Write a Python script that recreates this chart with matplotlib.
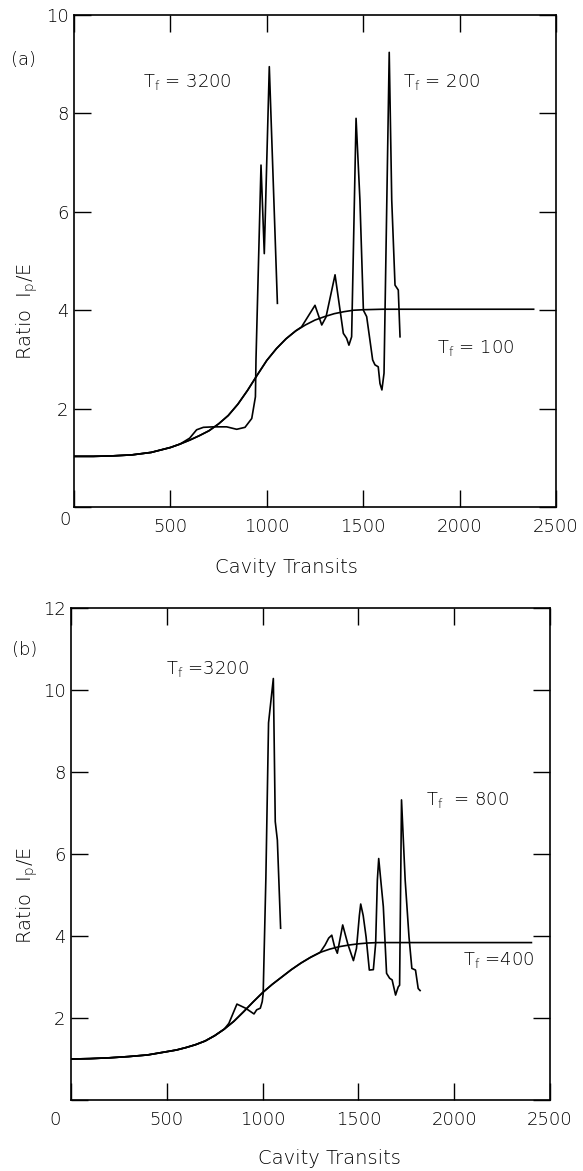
import matplotlib
matplotlib.use("Agg")
import matplotlib.pyplot as plt
import matplotlib.transforms as mtransforms

plt.rcParams['font.family'] = ['DejaVu Sans']
plt.rcParams['mathtext.fontset'] = 'dejavusans'

# ---------------- Panel (a) data ----------------
a_x_tf100 = [0, 100, 200, 300, 400, 500, 550, 600, 650, 700, 750, 800, 850, 900,
             950, 1000, 1050, 1100, 1150, 1200, 1250, 1300, 1350, 1400, 1450,
             1500, 1600, 1800, 2000, 2200, 2384]
a_y_tf100 = [1.03, 1.03, 1.04, 1.06, 1.11, 1.21, 1.28, 1.36, 1.45, 1.55, 1.69,
             1.86, 2.09, 2.37, 2.68, 2.98, 3.22, 3.42, 3.58, 3.70, 3.80, 3.87,
             3.93, 3.97, 4.00, 4.01, 4.02, 4.02, 4.02, 4.02, 4.02]

a_x_tf3200 = [0, 100, 200, 300, 400, 500, 550, 600, 636, 671, 723, 792, 844,
              887, 922, 941, 944, 970, 987, 1013, 1055]
a_y_tf3200 = [1.03, 1.03, 1.04, 1.06, 1.11, 1.21, 1.28, 1.40, 1.57, 1.62, 1.63,
              1.63, 1.58, 1.62, 1.80, 2.24, 3.00, 6.95, 5.15, 8.95, 4.14]

a_x_tf200 = [0, 100, 200, 300, 400, 500, 550, 600, 650, 700, 750, 800, 850, 900,
             950, 1000, 1050, 1100, 1150, 1180, 1250, 1285, 1307, 1354, 1380,
             1397, 1414, 1426, 1440, 1463, 1483, 1501, 1518, 1535, 1549, 1561,
             1578, 1587, 1597, 1608, 1635, 1648, 1665, 1682, 1691]
a_y_tf200 = [1.03, 1.03, 1.04, 1.06, 1.11, 1.21, 1.28, 1.36, 1.45, 1.55, 1.69,
             1.86, 2.09, 2.37, 2.68, 2.98, 3.22, 3.42, 3.58, 3.66, 4.10, 3.70,
             3.86, 4.72, 4.00, 3.53, 3.43, 3.29, 3.46, 7.90, 6.24, 4.00, 3.87,
             3.39, 2.99, 2.89, 2.85, 2.51, 2.38, 2.72, 9.24, 6.24, 4.51, 4.41,
             3.46]

# ---------------- Panel (b) data ----------------
b_x_tf400 = [0, 100, 200, 300, 400, 500, 550, 600, 650, 700, 750, 800, 850, 900,
             950, 1000, 1050, 1100, 1150, 1200, 1250, 1300, 1350, 1400, 1450,
             1500, 1550, 1600, 1800, 2000, 2200, 2403]
b_y_tf400 = [1.00, 1.01, 1.03, 1.06, 1.10, 1.18, 1.22, 1.28, 1.35, 1.44, 1.57,
             1.73, 1.92, 2.15, 2.39, 2.62, 2.82, 3.00, 3.18, 3.34, 3.48, 3.60,
             3.68, 3.74, 3.78, 3.81, 3.83, 3.84, 3.84, 3.84, 3.84, 3.84]

b_x_tf3200 = [0, 100, 200, 300, 400, 500, 550, 600, 650, 700, 750, 800, 824,
              866, 911, 955, 969, 988, 998, 1003, 1017, 1031, 1056, 1066, 1077,
              1094]
b_y_tf3200 = [1.00, 1.01, 1.03, 1.06, 1.10, 1.18, 1.22, 1.28, 1.35, 1.44, 1.57,
              1.73, 1.87, 2.34, 2.24, 2.10, 2.20, 2.24, 2.40, 2.60, 5.40, 9.20,
              10.28, 6.79, 6.34, 4.19]

b_x_tf800 = [0, 100, 200, 300, 400, 500, 550, 600, 650, 700, 750, 800, 850, 900,
             950, 1000, 1050, 1100, 1150, 1200, 1250, 1300, 1326, 1345, 1361,
             1375, 1390, 1405, 1418, 1445, 1474, 1490, 1505, 1512, 1525, 1540,
             1557, 1578, 1590, 1599, 1606, 1618, 1630, 1647, 1663, 1676, 1694,
             1708, 1715, 1721, 1725, 1744, 1764, 1779, 1798, 1812, 1822]
b_y_tf800 = [1.00, 1.01, 1.03, 1.06, 1.10, 1.18, 1.22, 1.28, 1.35, 1.44, 1.57,
             1.73, 1.92, 2.15, 2.39, 2.62, 2.82, 3.00, 3.18, 3.34, 3.48, 3.60,
             3.78, 3.95, 4.02, 3.75, 3.58, 3.95, 4.27, 3.80, 3.40, 3.70, 4.50,
             4.78, 4.50, 3.98, 3.17, 3.18, 3.82, 5.37, 5.89, 5.30, 4.72, 3.09,
             2.97, 2.93, 2.56, 2.76, 2.80, 5.50, 7.32, 5.37, 3.98, 3.21, 3.17,
             2.72, 2.67]

x_ticks = [0, 500, 1000, 1500, 2000, 2500]
x_ticklabels = ['0', '500', '1000', '1500', '2000', '2500']
a_y_ticks = [0, 2, 4, 6, 8, 10]
b_y_ticks = [0, 2, 4, 6, 8, 10, 12]

FS = 13
FS_LAB = 14
LW = 1.2
FW = 'light'

fig = plt.figure(figsize=(5.83, 11.71), dpi=100)
ax_a = fig.add_axes([0.1269, 0.5670, 0.8268, 0.4202])
ax_b = fig.add_axes([0.1218, 0.0606, 0.8216, 0.4202])


def style(ax, yticks, ymax, zero_dx, zero_dy):
    ax.set_xlim(0, 2500)
    ax.set_ylim(0, ymax)
    ax.set_xticks(x_ticks)
    ax.set_xticklabels(x_ticklabels, fontweight=FW)
    ax.set_yticks(yticks)
    ax.set_yticklabels([('' if (v == 0) else str(v)) for v in yticks], fontweight=FW)
    ax.tick_params(axis='both', direction='in', length=12, width=1.0,
                   top=True, right=True, labelsize=FS, color='black')
    ax.tick_params(axis='x', pad=8.0)
    ax.tick_params(axis='y', pad=4.0)
    for sp in ax.spines.values():
        sp.set_linewidth(1.2)
    lab0 = ax.get_xticklabels()[0]
    lab0.set_transform(lab0.get_transform() +
                       mtransforms.ScaledTranslation(zero_dx / 100, zero_dy / 100,
                                                     fig.dpi_scale_trans))


def tf(s):
    return r'T$_{\mathregular{f}}$' + s


# Panel (a)
ax_a.plot(a_x_tf100, a_y_tf100, color='black', lw=LW)
ax_a.plot(a_x_tf3200, a_y_tf3200, color='black', lw=LW)
ax_a.plot(a_x_tf200, a_y_tf200, color='black', lw=LW)
style(ax_a, a_y_ticks, 10, -9, 7)
ax_a.text(-260, 9.08, '(a)', fontsize=FS, ha='center', va='center', fontweight=FW)
ax_a.text(357, 8.64, tf(' = 3200'), fontsize=FS, ha='left', va='center', fontweight=FW)
ax_a.text(1708, 8.64, tf(' = 200'), fontsize=FS, ha='left', va='center', fontweight=FW)
ax_a.text(1882, 3.23, tf(' = 100'), fontsize=FS, ha='left', va='center', fontweight=FW)
ax_a.text(-244, 3.98, r'Ratio  I$_{\mathregular{p}}$/E', fontsize=FS_LAB, rotation=90,
          ha='center', va='center', fontweight=FW)
ax_a.text(1100, -1.22, 'Cavity Transits', fontsize=FS_LAB, ha='center', va='center',
          fontweight=FW)

# Panel (b)
ax_b.plot(b_x_tf400, b_y_tf400, color='black', lw=LW)
ax_b.plot(b_x_tf3200, b_y_tf3200, color='black', lw=LW)
ax_b.plot(b_x_tf800, b_y_tf800, color='black', lw=LW)
style(ax_b, b_y_ticks, 12, -16, 0)
ax_b.text(-240, 10.98, '(b)', fontsize=FS, ha='center', va='center', fontweight=FW)
ax_b.text(494, 10.51, tf(' =3200'), fontsize=FS, ha='left', va='center', fontweight=FW)
ax_b.text(1851, 7.32, tf('  = 800'), fontsize=FS, ha='left', va='center', fontweight=FW)
ax_b.text(2045, 3.41, tf(' =400'), fontsize=FS, ha='left', va='center', fontweight=FW)
ax_b.text(-230, 5.0, r'Ratio  I$_{\mathregular{p}}$/E', fontsize=FS_LAB, rotation=90,
          ha='center', va='center', fontweight=FW)
ax_b.text(1347, -1.43, 'Cavity Transits', fontsize=FS_LAB, ha='center', va='center',
          fontweight=FW)

fig.savefig('out.png', dpi=100)
